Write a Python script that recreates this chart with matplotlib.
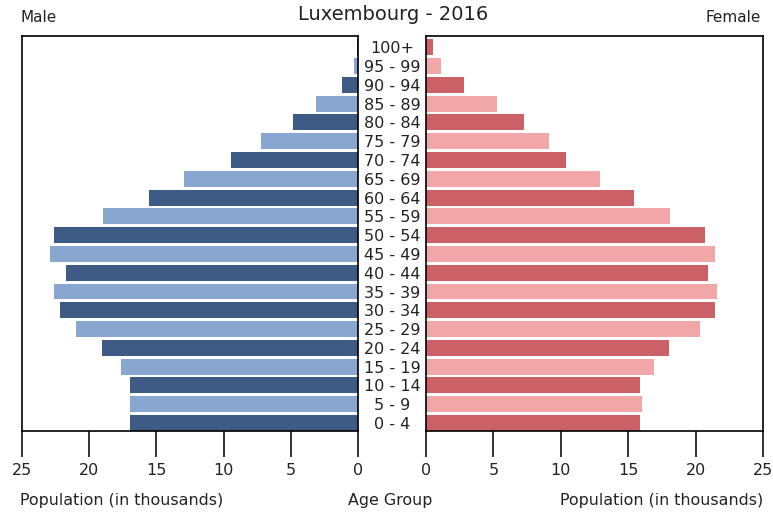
import matplotlib.pyplot as plt

age_groups = ["0 - 4", "5 - 9", "10 - 14", "15 - 19", "20 - 24", "25 - 29",
              "30 - 34", "35 - 39", "40 - 44", "45 - 49", "50 - 54", "55 - 59",
              "60 - 64", "65 - 69", "70 - 74", "75 - 79", "80 - 84", "85 - 89",
              "90 - 94", "95 - 99", "100+"]
male = [16.95, 16.95, 16.95, 17.6, 19.05, 21.0, 22.2, 22.6, 21.7, 22.9, 22.6,
        19.0, 15.55, 12.95, 9.45, 7.2, 4.85, 3.1, 1.2, 0.3, 0.1]
female = [15.9, 16.0, 15.9, 16.95, 18.0, 20.3, 21.45, 21.6, 20.9, 21.45, 20.7,
          18.1, 15.45, 12.9, 10.4, 9.1, 7.3, 5.3, 2.8, 1.1, 0.5]
xticks = [0, 5, 10, 15, 20, 25]

male_cols = ["#3e5b86", "#88a6cf"]
female_cols = ["#cb6166", "#f1a6a8"]

fig = plt.figure(figsize=(7.73, 5.15), dpi=100)
ax_l = fig.add_axes([22 / 773, 84 / 515, 336 / 773, 395 / 515])
ax_r = fig.add_axes([426 / 773, 84 / 515, 337 / 773, 395 / 515])

pos = list(range(len(age_groups)))
ax_l.barh(pos, male, height=0.85,
          color=[male_cols[i % 2] for i in pos])
ax_r.barh(pos, female, height=0.85,
          color=[female_cols[i % 2] for i in pos])

for ax in (ax_l, ax_r):
    ax.set_xlim(0, 25)
    ax.set_ylim(-0.425, 20.6)
    ax.set_xticks(xticks)
    ax.tick_params(axis="x", direction="out", length=19, width=1.3,
                   labelsize=11.5, pad=4, colors="#222222")
    for sp in ax.spines.values():
        sp.set_linewidth(1.2)
ax_l.invert_xaxis()
ax_l.set_yticks([])

ax_r.set_yticks(pos)
ax_r.set_yticklabels(age_groups, ha="center", fontsize=11.5, color="#222222")
ax_r.tick_params(axis="y", length=0, pad=24.5)

fig.text(20 / 773, 1 - 17 / 515, "Male", fontsize=11, va="center",
         color="#222222")
fig.text(761 / 773, 1 - 17 / 515, "Female", fontsize=11, va="center",
         ha="right", color="#222222")
fig.text(393 / 773, 1 - 15 / 515, "Luxembourg - 2016", fontsize=14,
         va="center", ha="center", color="#222222")
fig.text(20 / 773, 1 - 500 / 515, "Population (in thousands)", fontsize=11.4,
         va="center", color="#222222")
fig.text(390 / 773, 1 - 500 / 515, "Age Group", fontsize=11.4, va="center",
         ha="center", color="#222222")
fig.text(763 / 773, 1 - 500 / 515, "Population (in thousands)", fontsize=11.4,
         va="center", ha="right", color="#222222")

fig.savefig("out.png", dpi=100)
